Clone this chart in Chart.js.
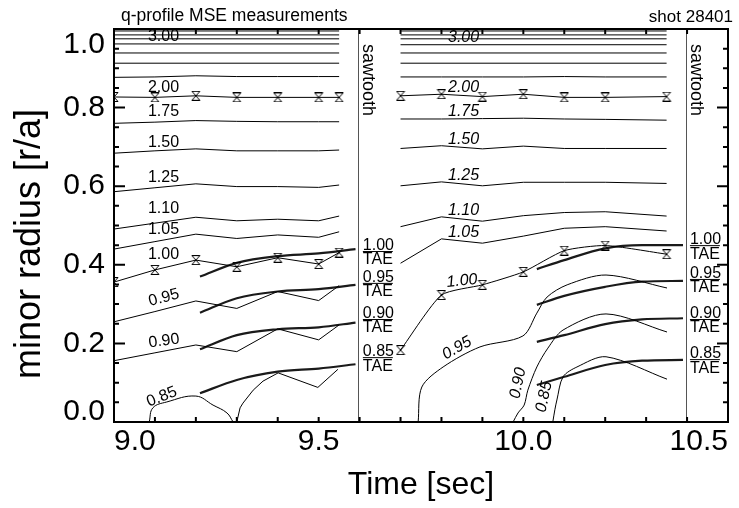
<!DOCTYPE html>
<html>
<head>
<meta charset="utf-8">
<script src="https://cdn.jsdelivr.net/npm/chart.js@4.4.1/dist/chart.umd.min.js"></script>
<style>
  html, body { margin: 0; padding: 0; background: #fff; }
  #box { width: 739px; height: 508px; }
</style>
</head>
<body>
<div id="box"><canvas id="chart" width="739" height="508"></canvas></div>
<script>
// Axis ticks and labels
const xTickValues = [9.0, 9.1, 9.2, 9.3, 9.4, 9.5, 9.6, 9.7, 9.8, 9.9, 10.0, 10.1, 10.2, 10.3, 10.4, 10.5];
const xLabelValues = [9.0, 9.5, 10.0, 10.5];
const xTickLabels = ["9.0", "9.5", "10.0", "10.5"];
const yLabelValues = [0.0, 0.2, 0.4, 0.6, 0.8, 1.0];
const yTickLabels = ["0.0", "0.2", "0.4", "0.6", "0.8", "1.0"];

// Sawtooth crashes (s)
const sawtoothTimes = [9.595, 10.397];

// MSE measurement times in the two windows (s)
const leftTimes = [9.0, 9.1, 9.2, 9.3, 9.4, 9.5, 9.55];
const rightTimes = [9.7, 9.8, 9.9, 10.0, 10.1, 10.2, 10.35];

// flat high-q contours near the edge (r/a)
const upperLeft = [0.995, 0.985, 0.975, 0.962, 0.939, 0.913];
const upperRight = [0.995, 0.985, 0.975, 0.960, 0.939, 0.913];
const q225L = [0.877, 0.878, 0.881, 0.879, 0.879, 0.879, 0.879];
const q225R = [0.878, 0.878, 0.878, 0.878, 0.879, 0.878, 0.878];

// q contours, left window (r/a at leftTimes)
const q200L = [0.827, 0.826, 0.830, 0.826, 0.826, 0.826, 0.826];
const q175L = [0.760, 0.763, 0.767, 0.765, 0.764, 0.764, 0.764];
const q150L = [0.684, 0.690, 0.695, 0.690, 0.690, 0.690, 0.692];
const q125L = [0.586, 0.596, 0.606, 0.599, 0.599, 0.597, 0.603];
const q110L = [0.491, 0.506, 0.521, 0.512, 0.516, 0.512, 0.524];
const q105L = [0.440, 0.459, 0.478, 0.467, 0.476, 0.470, 0.484];
const q100L = [0.356, 0.387, 0.412, 0.395, 0.418, 0.402, 0.431];
const q095L = [0.255, 0.281, 0.308, 0.289, 0.332, 0.309, 0.347];
const q090L = [0.156, 0.176, 0.196, 0.179, 0.237, 0.209, 0.247];
const q085La_t = [9.086, 9.095, 9.129, 9.200, 9.242, 9.276, 9.291];
const q085La = [0.000, 0.036, 0.051, 0.066, 0.043, 0.023, 0.000];
const q085Lb_t = [9.300, 9.308, 9.315, 9.340, 9.364, 9.401, 9.498, 9.547];
const q085Lb = [0.000, 0.036, 0.048, 0.081, 0.104, 0.125, 0.088, 0.134];

// q contours, right window (r/a at rightTimes)
const q200R = [0.830, 0.834, 0.828, 0.834, 0.826, 0.826, 0.828];
const q175R = [0.771, 0.771, 0.772, 0.773, 0.771, 0.770, 0.768];
const q150R = [0.696, 0.703, 0.695, 0.702, 0.696, 0.696, 0.696];
const q125R = [0.601, 0.611, 0.601, 0.610, 0.610, 0.610, 0.607];
const q110R = [0.497, 0.522, 0.511, 0.525, 0.533, 0.535, 0.524];
const q105R = [0.404, 0.466, 0.455, 0.473, 0.493, 0.497, 0.486];
const q100R = [0.183, 0.323, 0.349, 0.382, 0.436, 0.449, 0.427];
const q095R_t = [9.743, 9.752, 9.804, 9.894, 9.999, 10.033, 10.058, 10.107, 10.202, 10.351];
const q095R = [0.000, 0.089, 0.140, 0.191, 0.219, 0.277, 0.318, 0.349, 0.374, 0.341];
const q090R_t = [9.975, 9.987, 10.002, 10.011, 10.033, 10.060, 10.097, 10.202, 10.351];
const q090R = [0.000, 0.023, 0.043, 0.081, 0.140, 0.188, 0.234, 0.275, 0.229];
const q085R_t = [10.072, 10.077, 10.082, 10.097, 10.131, 10.202, 10.351];
const q085R = [0.000, 0.031, 0.056, 0.115, 0.140, 0.166, 0.109];

// TAE locations (r/a)
const taeLeftT = [9.21, 9.30, 9.40, 9.50, 9.59];
const tae100L = [0.370, 0.405, 0.422, 0.429, 0.440];
const tae095L = [0.278, 0.315, 0.332, 0.338, 0.349];
const tae090L = [0.185, 0.221, 0.236, 0.241, 0.253];
const tae085L = [0.073, 0.107, 0.128, 0.136, 0.147];
const taeRightT = [10.033, 10.10, 10.20, 10.29, 10.39];
const tae100R = [0.389, 0.412, 0.442, 0.450, 0.450];
const tae095R = [0.298, 0.321, 0.344, 0.357, 0.359];
const tae090R = [0.204, 0.221, 0.249, 0.261, 0.264];
const tae085R = [0.094, 0.115, 0.145, 0.156, 0.158];

// contour labels: text, time, r/a, rotation (deg), italic
const contourLabels = [
  ["3.00", 9.083, 0.980, 0, false], ["2.00", 9.083, 0.850, 0, false],
  ["1.75", 9.083, 0.789, 0, false], ["1.50", 9.083, 0.712, 0, false],
  ["1.25", 9.083, 0.623, 0, false], ["1.10", 9.083, 0.542, 0, false],
  ["1.05", 9.083, 0.489, 0, false], ["1.00", 9.083, 0.427, 0, false],
  ["0.95", 9.122, 0.316, -15, false], ["0.90", 9.122, 0.206, -8, false],
  ["0.85", 9.117, 0.064, -22, false],
  ["3.00", 9.816, 0.978, 0, true], ["2.00", 9.816, 0.850, 0, true],
  ["1.75", 9.816, 0.789, 0, true], ["1.50", 9.816, 0.718, 0, true],
  ["1.25", 9.816, 0.626, 0, true], ["1.10", 9.816, 0.537, 0, true],
  ["1.05", 9.816, 0.481, 0, true], ["1.00", 9.850, 0.359, -6, true],
  ["0.95", 9.838, 0.188, -30, true], ["0.90", 9.987, 0.099, -78, true],
  ["0.85", 10.051, 0.064, -78, true]
];
const taeLabelText = ["1.00", "0.95", "0.90", "0.85"];
const taeLabelLeft = [9.608, [0.435, 0.354, 0.262, 0.165]];
const taeLabelRight = [10.407, [0.450, 0.364, 0.262, 0.160]];

const FONT = '"Liberation Sans", Arial, Helvetica, sans-serif';
Chart.defaults.font.family = FONT;
Chart.defaults.color = "#000";

// hourglass marker used for the MSE points
const hourglass = (() => {
  const c = document.createElement("canvas");
  c.width = 10; c.height = 10;
  const g = c.getContext("2d");
  g.strokeStyle = "#000"; g.lineWidth = 1;
  g.beginPath();
  g.moveTo(1, 0.5); g.lineTo(9, 0.5);
  g.moveTo(1, 9.5); g.lineTo(9, 9.5);
  g.moveTo(1, 0.5); g.lineTo(9, 9.5);
  g.moveTo(9, 0.5); g.lineTo(1, 9.5);
  g.stroke();
  return c;
})();

function pts(ts, rs) {
  return ts.map((t, i) => ({ x: t, y: rs[i] }));
}
function contour(ts, rs, extra) {
  return Object.assign({
    data: pts(ts, rs), borderColor: "#000", borderWidth: 1,
    pointRadius: 0, tension: 0, clip: 0
  }, extra || {});
}
function tae(ts, rs) {
  return contour(ts, rs, { borderColor: "#1a1a1a", borderWidth: 2.2, cubicInterpolationMode: "monotone" });
}
const withMarks = { pointStyle: hourglass, pointRadius: 5 };

const datasets = [];
upperLeft.forEach(r => datasets.push(contour([leftTimes[0], leftTimes[6]], [r, r])));
upperRight.forEach(r => datasets.push(contour([rightTimes[0], rightTimes[6]], [r, r])));
datasets.push(
  contour(leftTimes, q225L), contour(leftTimes, q200L, withMarks), contour(leftTimes, q175L),
  contour(leftTimes, q150L), contour(leftTimes, q125L), contour(leftTimes, q110L),
  contour(leftTimes, q105L), contour(leftTimes, q100L, withMarks), contour(leftTimes, q095L),
  contour(leftTimes, q090L),
  contour(q085La_t, q085La, { tension: 0.4 }), contour(q085Lb_t, q085Lb),
  contour(rightTimes, q225R), contour(rightTimes, q200R, withMarks), contour(rightTimes, q175R),
  contour(rightTimes, q150R), contour(rightTimes, q125R), contour(rightTimes, q110R),
  contour(rightTimes, q105R), contour(rightTimes, q100R, Object.assign({ tension: 0.2 }, withMarks)),
  contour(q095R_t, q095R, { tension: 0.3 }), contour(q090R_t, q090R, { tension: 0.3 }),
  contour(q085R_t, q085R, { tension: 0.3 }),
  tae(taeLeftT, tae100L), tae(taeLeftT, tae095L), tae(taeLeftT, tae090L), tae(taeLeftT, tae085L),
  tae(taeRightT, tae100R), tae(taeRightT, tae095R), tae(taeRightT, tae090R), tae(taeRightT, tae085R)
);

function isMajor(v) {
  return Math.abs(v * 5 - Math.round(v * 5)) < 1e-6;
}
const yTickValues = [];
for (let i = 0; i <= 20; i++) yTickValues.push(i / 20);

// frame, inward ticks and all the annotations
const framePlugin = {
  id: "frame",
  afterDatasetsDraw(chart) {
    const { ctx, chartArea: a, scales: { x, y } } = chart;
    ctx.save();

    // sawtooth markers
    ctx.strokeStyle = "#555";
    ctx.lineWidth = 1;
    sawtoothTimes.forEach(t => {
      const px = Math.round(x.getPixelForValue(t)) + 0.5;
      ctx.beginPath();
      ctx.moveTo(px, a.top);
      ctx.lineTo(px, a.bottom);
      ctx.stroke();
      ctx.save();
      ctx.translate(px + 9, y.getPixelForValue(0.87));
      ctx.rotate(Math.PI / 2);
      ctx.fillStyle = "#000";
      ctx.font = "18px " + FONT;
      ctx.textAlign = "center";
      ctx.textBaseline = "middle";
      ctx.fillText("sawtooth", 0, 0);
      ctx.restore();
    });

    // contour labels
    ctx.fillStyle = "#000";
    contourLabels.forEach(([txt, t, r, rot, it]) => {
      ctx.save();
      ctx.font = (it ? "italic " : "") + "16px " + FONT;
      ctx.translate(x.getPixelForValue(t), y.getPixelForValue(r));
      ctx.textBaseline = "middle";
      if (rot) {
        ctx.rotate(rot * Math.PI / 180);
        ctx.textAlign = "center";
      } else {
        ctx.textAlign = "left";
      }
      ctx.fillText(txt, 0, 0);
      ctx.restore();
    });

    // TAE fraction labels
    [taeLabelLeft, taeLabelRight].forEach(([t, rs]) => {
      const px = x.getPixelForValue(t);
      rs.forEach((r, i) => {
        const py = y.getPixelForValue(r);
        ctx.font = "16px " + FONT;
        ctx.textAlign = "left";
        ctx.textBaseline = "alphabetic";
        ctx.fillText(taeLabelText[i], px, py - 1);
        ctx.textBaseline = "top";
        ctx.fillText("TAE", px, py + 1);
        ctx.lineWidth = 1;
        ctx.strokeStyle = "#000";
        ctx.beginPath();
        ctx.moveTo(px, py + 0.5);
        ctx.lineTo(px + ctx.measureText("TAE").width, py + 0.5);
        ctx.stroke();
      });
    });

    // ticks pointing inward on all four sides
    ctx.strokeStyle = "#000";
    ctx.lineWidth = 2;
    ctx.beginPath();
    yTickValues.forEach(v => {
      const py = y.getPixelForValue(v);
      const len = isMajor(v) ? 11 : 5;
      ctx.moveTo(a.left, py); ctx.lineTo(a.left + len, py);
      ctx.moveTo(a.right, py); ctx.lineTo(a.right - len, py);
    });
    xTickValues.forEach(v => {
      const px = x.getPixelForValue(v);
      ctx.moveTo(px, a.bottom); ctx.lineTo(px, a.bottom - 5);
      ctx.moveTo(px, a.top); ctx.lineTo(px, a.top + 5);
    });
    ctx.stroke();
    ctx.strokeRect(a.left, a.top, a.right - a.left, a.bottom - a.top);

    // header
    ctx.fillStyle = "#000";
    ctx.textBaseline = "middle";
    ctx.font = "17.5px " + FONT;
    ctx.textAlign = "left";
    ctx.fillText("q-profile MSE measurements", 121, 16);
    ctx.font = "17px " + FONT;
    ctx.textAlign = "right";
    ctx.fillText("shot 28401", 733, 17);

    // y axis title (sits a little below the axis centre in the original)
    ctx.save();
    ctx.translate(30, 244);
    ctx.rotate(-Math.PI / 2);
    ctx.font = "36px " + FONT;
    ctx.textAlign = "center";
    ctx.textBaseline = "middle";
    ctx.fillText("minor radius [r/a]", 0, 0);
    ctx.restore();
    ctx.restore();
  }
};

new Chart(document.getElementById("chart"), {
  type: "line",
  data: { datasets },
  options: {
    responsive: false,
    animation: false,
    devicePixelRatio: 1,
    layout: { padding: { top: 29, right: 11, left: 0, bottom: 0 } },
    plugins: { legend: { display: false }, tooltip: { enabled: false } },
    scales: {
      x: {
        type: "linear",
        min: 9.0,
        max: 10.5,
        grid: { display: false, drawTicks: false },
        border: { display: false },
        afterBuildTicks: s => { s.ticks = xTickValues.map(v => ({ value: v })); },
        afterFit: s => { s.height = 86; s.paddingLeft = 0; s.paddingRight = 0; },
        ticks: {
          autoSkip: false,
          maxRotation: 0,
          align: "inner",
          padding: 5,
          color: "#000",
          font: { size: 30, lineHeight: 1 },
          callback: v => {
            const i = xLabelValues.findIndex(l => Math.abs(l - v) < 1e-6);
            return i < 0 ? "" : xTickLabels[i];
          }
        },
        title: {
          display: true,
          text: "Time [sec]",
          color: "#000",
          font: { size: 32, lineHeight: 1 },
          padding: { top: 0, bottom: 7 }
        }
      },
      y: {
        type: "linear",
        min: 0,
        max: 1,
        grid: { display: false, drawTicks: false },
        border: { display: false },
        afterBuildTicks: s => { s.ticks = yTickValues.map(v => ({ value: v })); },
        afterFit: s => { s.width = 114; s.paddingTop = 0; s.paddingBottom = 0; },
        ticks: {
          autoSkip: false,
          padding: 9,
          color: "#000",
          // the two end labels are pulled inside the frame by different amounts
          font: c => ({ size: 30, lineHeight: c.index === 0 ? 0.68 : 1.07 }),
          callback: v => {
            const i = yLabelValues.findIndex(l => Math.abs(l - v) < 1e-6);
            if (i < 0) return "";
            if (i === 0) return [yTickLabels[i], ""];
            if (i === yTickLabels.length - 1) return ["", yTickLabels[i]];
            return yTickLabels[i];
          }
        },
        title: { display: false }
      }
    }
  },
  plugins: [framePlugin]
});
</script>
</body>
</html>
